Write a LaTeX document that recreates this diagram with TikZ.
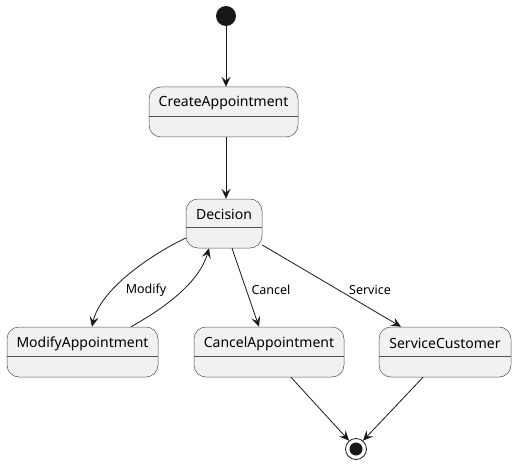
\documentclass[tikz,border=0pt]{standalone}
\usepackage{fontspec}
\setmainfont{Noto Sans}
\usetikzlibrary{arrows.meta}
\definecolor{stfill}{HTML}{F1F1F1}
\definecolor{stline}{HTML}{181818}
\definecolor{boxline}{HTML}{505050}
\tikzset{
  statebox/.style={draw=boxline, line width=0.5pt, fill=stfill, rounded corners=12pt, inner sep=0pt},
  sttext/.style={font=\fontsize{14}{16}\selectfont, inner sep=0pt, text=black},
  lbl/.style={font=\fontsize{12.5}{15}\selectfont, inner sep=0pt, text=black},
  conn/.style={draw=stline, line width=0.8pt, -{Stealth[length=10pt,width=9pt,inset=4pt]}},
  divline/.style={draw=boxline, line width=0.5pt}
}
\begin{document}
\begin{tikzpicture}[x=1pt,y=-1pt]
\useasboundingbox (0,0) rectangle (516,465);
% start
\node[circle, fill=stline, minimum size=20pt, inner sep=0pt] (start) at (226,16) {};
% states
\node[statebox, minimum width=149pt, minimum height=50pt] (create) at (223.5,112) {};
\node[sttext] (createT) at (223.5,103.5) {CreateAppointment};
\draw[divline] (149,116) -- (298,116);

\node[statebox, minimum width=76pt, minimum height=49pt] (decision) at (224,223.5) {};
\node[sttext] (decisionT) at (224,214.5) {Decision};
\draw[divline] (186,227) -- (262,227);

\node[statebox, minimum width=151pt, minimum height=50pt] (modify) at (82.5,352) {};
\node[sttext] (modifyT) at (82.5,343.5) {ModifyAppointment};
\draw[divline] (7,356) -- (158,356);

\node[statebox, minimum width=150pt, minimum height=50pt] (cancel) at (269,352) {};
\node[sttext] (cancelT) at (269,343.5) {CancelAppointment};
\draw[divline] (194,356) -- (344,356);

\node[statebox, minimum width=132pt, minimum height=50pt] (service) at (445,352) {};
\node[sttext] (serviceT) at (445,343.5) {ServiceCustomer};
\draw[divline] (379,356) -- (511,356);

% end
\node[circle, draw=stline, line width=0.8pt, fill=white, minimum size=21pt, inner sep=0pt] (end) at (356,449) {};
\node[circle, fill=stline, minimum size=13pt, inner sep=0pt] (endin) at (356,449) {};

% connectors
\draw[conn] (start.south) -- (create.north -| start.south);
\draw[conn] (create.south -| start.south) -- (decision.north -| start.south);
\draw[conn] (decision.west |- 0,238) .. controls (150,255) and (100,290) .. (modify.north -| 92,0);
\draw[conn] (modify.north -| 131,0) .. controls (170,305) and (200,280) .. (decision.south -| 209,0);
\draw[conn] (decision.south -| 232,0) -- (cancel.north -| 259,0);
\draw[conn] (decision.east |- 0,245) -- (service.north -| 401,0);
\draw[conn] (cancel.south -| 291,0) -- (end.130);
\draw[conn] (service.south -| 423,0) -- (end.50);

\node[lbl] (lmod) at (146,290) {Modify};
\node[lbl] (lcan) at (271,290) {Cancel};
\node[lbl] (lser) at (370,290) {Service};
\end{tikzpicture}
\end{document}
